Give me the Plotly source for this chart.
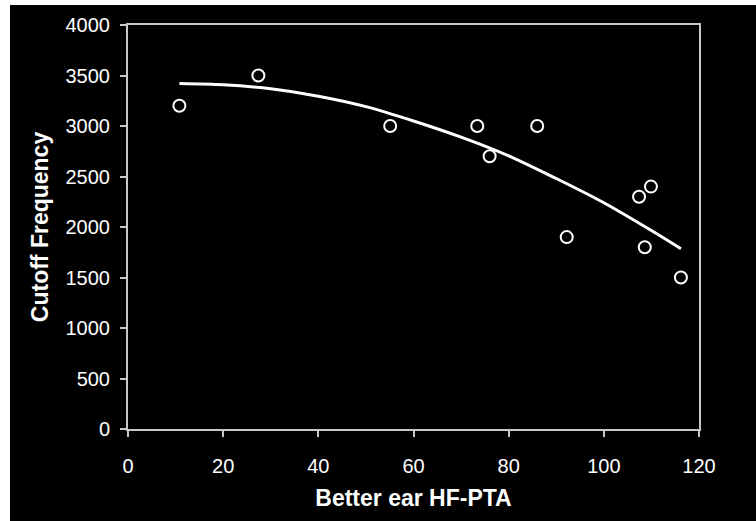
import plotly.graph_objects as go

# Data
hf_pta = [10.8, 27.4, 55.1, 73.4, 76.0, 86.0, 92.2, 107.4, 108.6, 109.9, 116.2]
cutoff = [3200, 3500, 3000, 3000, 2700, 3000, 1900, 2300, 1800, 2400, 1500]

# Polynomial trendline as drawn in the reference
trend_x = [10.8, 20, 30, 40, 50, 60, 70, 80, 90, 100, 110, 116.2]
trend_y = [3420, 3408, 3368, 3295, 3192, 3050, 2890, 2705, 2480, 2240, 1965, 1785]

x_ticks = [0, 20, 40, 60, 80, 100, 120]
y_ticks = [0, 500, 1000, 1500, 2000, 2500, 3000, 3500, 4000]

W, H = 756, 521
L, R, T, B = 128, 57, 25, 92
pw, ph = W - L - R, H - T - B

fig = go.Figure()
fig.add_trace(go.Scatter(x=trend_x, y=trend_y, mode="lines",
                         line=dict(color="white", width=3, shape="spline", smoothing=0.8),
                         hoverinfo="skip"))
fig.add_trace(go.Scatter(x=hf_pta, y=cutoff, mode="markers",
                         marker=dict(symbol="circle-open", size=12, color="white",
                                     line=dict(width=2, color="white"))))

# black backdrop (image has a thin white strip on the left and top)
fig.add_shape(type="rect", xref="paper", yref="paper", layer="below",
              x0=(10 - L) / pw, x1=(W + 5 - L) / pw,
              y0=-(H + 5 - T - ph) / ph, y1=(H - 5 - B) / ph,
              fillcolor="black", line=dict(width=0))

axis_common = dict(showline=True, linecolor="#c8c8c8", linewidth=2, mirror=True,
                   showgrid=False, zeroline=False, ticks="outside", ticklen=6,
                   tickwidth=2, tickcolor="#c8c8c8",
                   tickfont=dict(family="Liberation Sans, Arial", size=20, color="white"))

fig.update_layout(
    width=W, height=H,
    margin=dict(l=L, r=R, t=T, b=B),
    paper_bgcolor="white", plot_bgcolor="black",
    showlegend=False,
    xaxis=dict(range=[0, 120], tickvals=x_ticks, ticklabelstandoff=12,
               title=dict(text="<b>Better ear HF-PTA</b>", standoff=14,
                          font=dict(family="Liberation Sans, Arial", size=23, color="white")),
               **axis_common),
    yaxis=dict(range=[0, 4000], tickvals=y_ticks, ticklabelstandoff=6,
               title=dict(text="<b>Cutoff Frequency</b>", standoff=10,
                          font=dict(family="Liberation Sans, Arial", size=23, color="white")),
               **axis_common),
)

fig.write_html("out.html")
